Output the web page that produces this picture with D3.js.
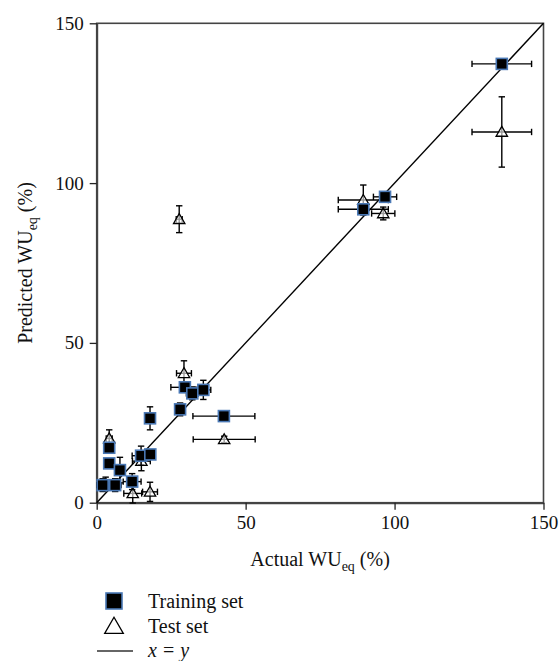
<!DOCTYPE html>
<html>
<head>
<meta charset="utf-8">
<script src="https://cdn.jsdelivr.net/npm/d3@7"></script>
<style>
  body { margin: 0; background: #fff; }
  text { font-family: "Liberation Serif", "DejaVu Serif", serif; fill: #111; }
</style>
</head>
<body>
<div id="chart"></div>
<script>
// training set: actual, predicted, x error, y error
const trainActual    = [136, 96.8, 89.5, 29.6, 32.1, 35.8, 28, 42.7, 17.9, 14.9, 18, 4.2, 4.2, 7.8, 2, 6.2, 11.9];
const trainPredicted = [137.3, 95.7, 91.8, 36.1, 34.2, 35.3, 29.2, 27.1, 26.4, 14.7, 15.1, 17.2, 12.3, 10.2, 5.5, 5.5, 6.6];
const trainErrX      = [10, 3.9, 8.4, 4.7, 2, 2.5, 1.5, 10.4, 1, 3, 1.5, 1, 1, 1.5, 2, 2, 3];
const trainErrY      = [1.2, 1.5, 1.5, 1.5, 2, 3, 2, 1.2, 3.6, 3, 1.5, 1.5, 1.5, 4, 2, 2, 2.5];

// test set
const testActual    = [136, 96.2, 89.5, 27.7, 29.3, 42.8, 4.2, 12.1, 17.9, 3, 15];
const testPredicted = [116, 90.5, 94.7, 88.7, 40.5, 19.8, 20.1, 2.9, 3.4, 6, 13];
const testErrX      = [10, 3.9, 8.4, 1, 2.5, 10.4, 1, 3, 2.5, 2, 3];
const testErrY      = [11, 2, 4.7, 4.2, 3.9, 1, 2.7, 3, 3, 2, 3];

const ticks = [0, 50, 100, 150];
const legendItems = ['Training set', 'Test set', 'x = y'];

const width = 559, height = 661;
const margin = {top: 23.3, right: 15.5, bottom: 158.3, left: 96.7};
const innerW = width - margin.left - margin.right;
const innerH = height - margin.top - margin.bottom;

const svg = d3.select('#chart').append('svg')
  .attr('width', width)
  .attr('height', height);

const plot = svg.append('g')
  .attr('transform', `translate(${margin.left}, ${margin.top})`);

const x = d3.scaleLinear().domain([0, 150]).range([0, innerW]);
const y = d3.scaleLinear().domain([0, 150]).range([innerH, 0]);

// frame
plot.append('rect')
  .attr('width', innerW)
  .attr('height', innerH)
  .attr('fill', 'none')
  .attr('stroke', '#444')
  .attr('stroke-width', 1.6);

const xAxis = d3.axisBottom(x).tickValues(ticks).tickSize(7).tickSizeOuter(0).tickPadding(6);
const yAxis = d3.axisLeft(y).tickValues(ticks).tickSize(7).tickSizeOuter(0).tickPadding(6);

const gx = plot.append('g')
  .attr('transform', `translate(0, ${innerH})`)
  .call(xAxis);
const gy = plot.append('g').call(yAxis);

[gx, gy].forEach(g => {
  g.select('.domain').attr('stroke', '#444').attr('stroke-width', 2);
  g.selectAll('.tick line').attr('stroke', '#222').attr('stroke-width', 1.3);
  g.selectAll('.tick text')
    .style('font-family', '"Liberation Serif", serif')
    .style('font-size', '19px')
    .attr('fill', '#111');
});

// axis labels
const xl = svg.append('text')
  .attr('x', margin.left + innerW / 2)
  .attr('y', 566)
  .attr('text-anchor', 'middle')
  .style('font-size', '20px');
xl.append('tspan').text('Actual WU');
xl.append('tspan').attr('dy', 5).style('font-size', '14px').text('eq');
xl.append('tspan').attr('dy', -5).text(' (%)');

const yl = svg.append('text')
  .attr('transform', `translate(32, ${margin.top + innerH / 2}) rotate(-90)`)
  .attr('text-anchor', 'middle')
  .style('font-size', '20px');
yl.append('tspan').text('Predicted WU');
yl.append('tspan').attr('dy', 5).style('font-size', '14px').text('eq');
yl.append('tspan').attr('dy', -5).text(' (%)');

// x = y line
plot.append('line')
  .attr('x1', x(0)).attr('y1', y(0))
  .attr('x2', x(150)).attr('y2', y(150))
  .attr('stroke', '#000')
  .attr('stroke-width', 1.4);

const train = trainActual.map((a, i) => ({a, p: trainPredicted[i], ex: trainErrX[i], ey: trainErrY[i]}));
const test = testActual.map((a, i) => ({a, p: testPredicted[i], ex: testErrX[i], ey: testErrY[i]}));

function addErrorBars(data) {
  const cap = 3.2;
  const g = plot.append('g').attr('stroke', '#000').attr('stroke-width', 1.4);
  data.forEach(d => {
    const cx = x(d.a), cy = y(d.p);
    const x0 = x(d.a - d.ex), x1 = x(d.a + d.ex);
    const y0 = y(d.p - d.ey), y1 = y(d.p + d.ey);
    g.append('line').attr('x1', x0).attr('x2', x1).attr('y1', cy).attr('y2', cy);
    g.append('line').attr('x1', x0).attr('x2', x0).attr('y1', cy - cap).attr('y2', cy + cap);
    g.append('line').attr('x1', x1).attr('x2', x1).attr('y1', cy - cap).attr('y2', cy + cap);
    g.append('line').attr('x1', cx).attr('x2', cx).attr('y1', y0).attr('y2', y1);
    g.append('line').attr('x1', cx - cap).attr('x2', cx + cap).attr('y1', y0).attr('y2', y0);
    g.append('line').attr('x1', cx - cap).attr('x2', cx + cap).attr('y1', y1).attr('y2', y1);
  });
}

const triangle = d3.symbol().type(d3.symbolTriangle).size(56);

addErrorBars(test);
plot.append('g').selectAll('path')
  .data(test)
  .join('path')
    .attr('d', triangle)
    .attr('transform', d => `translate(${x(d.a)}, ${y(d.p) + 1})`)
    .attr('fill', '#fff')
    .attr('fill-opacity', 0.6)
    .attr('stroke', '#000')
    .attr('stroke-width', 1.3);

addErrorBars(train);
const sq = 11;
plot.append('g').selectAll('rect')
  .data(train)
  .join('rect')
    .attr('x', d => x(d.a) - sq / 2)
    .attr('y', d => y(d.p) - sq / 2)
    .attr('width', sq)
    .attr('height', sq)
    .attr('fill', '#000')
    .attr('stroke', '#4a78b5')
    .attr('stroke-width', 1.6);

// legend
const legend = svg.append('g').attr('transform', 'translate(114, 0)');
legend.append('rect')
  .attr('x', -8).attr('y', 593)
  .attr('width', 16).attr('height', 16)
  .attr('fill', '#000')
  .attr('stroke', '#4a78b5')
  .attr('stroke-width', 1.6);
legend.append('path')
  .attr('d', d3.symbol().type(d3.symbolTriangle).size(150))
  .attr('transform', 'translate(0, 628)')
  .attr('fill', '#fff')
  .attr('stroke', '#000')
  .attr('stroke-width', 1.3);
legend.append('line')
  .attr('x1', -17).attr('x2', 19)
  .attr('y1', 651).attr('y2', 651)
  .attr('stroke', '#333')
  .attr('stroke-width', 1.4);

legend.selectAll('text.item')
  .data(legendItems.slice(0, 2))
  .join('text')
    .attr('class', 'item')
    .attr('x', 34)
    .attr('y', (d, i) => 608 + i * 25)
    .style('font-size', '20px')
    .text(d => d);

const eq = legend.append('text')
  .attr('x', 34)
  .attr('y', 657)
  .style('font-size', '20px');
const parts = legendItems[2].split(' ');
eq.append('tspan').style('font-style', 'italic').text(parts[0]);
eq.append('tspan').attr('dx', 6).text(parts[1]);
eq.append('tspan').attr('dx', 6).style('font-style', 'italic').text(parts[2]);
</script>
</body>
</html>
